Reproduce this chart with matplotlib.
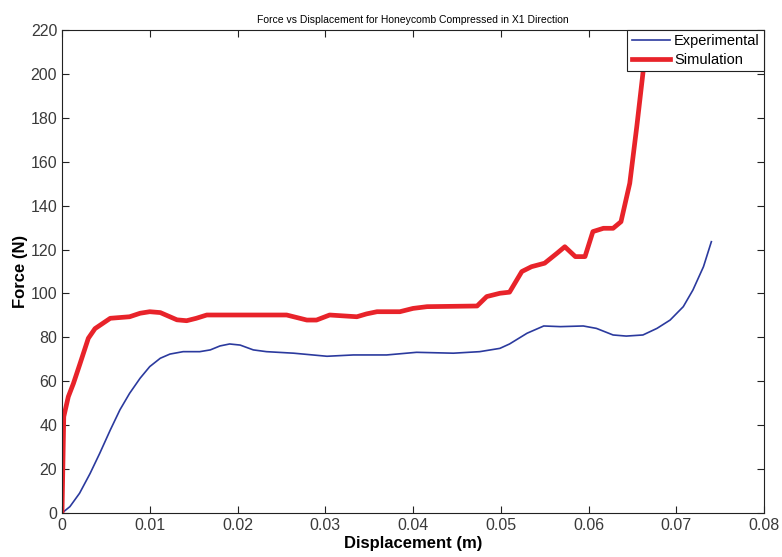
import matplotlib
matplotlib.use("Agg")
import matplotlib.pyplot as plt

plt.rcParams["font.family"] = ["Liberation Sans", "DejaVu Sans"]

# experimental
exp_x = [0.0, 0.0009, 0.002, 0.0032, 0.0043, 0.0055, 0.0066, 0.0077, 0.0089, 0.0100,
         0.0112, 0.0123, 0.0138, 0.0157, 0.0169, 0.0180, 0.0191, 0.0203, 0.0218, 0.0233,
         0.0264, 0.0302, 0.0332, 0.0370, 0.0404, 0.0446, 0.0476, 0.0499, 0.0510, 0.0530,
         0.0549, 0.0568, 0.0594, 0.0609, 0.0628, 0.0643, 0.0662, 0.0678, 0.0693, 0.0708,
         0.0719, 0.0731, 0.0740]
exp_f = [0.0, 2.9, 9.0, 18.0, 27.2, 37.8, 47.0, 54.5, 61.4, 66.7,
         70.5, 72.4, 73.5, 73.5, 74.3, 76.1, 77.0, 76.5, 74.3, 73.5,
         72.8, 71.4, 72.0, 72.0, 73.2, 72.8, 73.5, 75.0, 77.0, 81.9,
         85.2, 84.9, 85.2, 84.1, 81.1, 80.6, 81.1, 84.1, 87.9, 94.0,
         101.6, 112.2, 123.6]

# simulation
sim_x = [0.0, 0.0002, 0.00072, 0.0013, 0.00205, 0.0030, 0.00376, 0.0055, 0.0077, 0.0089,
         0.0100, 0.0112, 0.0131, 0.0142, 0.0153, 0.0165, 0.0256, 0.0264, 0.0279, 0.0290,
         0.0305, 0.0336, 0.0347, 0.0359, 0.0385, 0.0400, 0.0416, 0.0473, 0.0484, 0.0499,
         0.0510, 0.0524, 0.0535, 0.0550, 0.0564, 0.0573, 0.0585, 0.0596, 0.0605, 0.0617,
         0.0628, 0.0637, 0.0647, 0.0655, 0.0662, 0.0670]
sim_f = [0.0, 43.9, 53.0, 59.0, 68.0, 79.6, 84.0, 88.7, 89.4, 91.0,
         91.7, 91.3, 88.0, 87.6, 88.7, 90.2, 90.2, 89.4, 87.9, 87.9,
         90.2, 89.4, 90.7, 91.7, 91.7, 93.2, 94.0, 94.3, 98.6, 100.1,
         100.6, 110.0, 112.2, 113.8, 118.3, 121.3, 116.8, 116.8, 128.2, 129.7,
         129.7, 132.7, 150.2, 176.0, 200.3, 232.0]

fig = plt.figure(figsize=(7.82, 5.57), dpi=100)
ax = fig.add_axes([0.0793, 0.079, 0.8977, 0.867])

ax.plot(exp_x, exp_f, color="#2b3a9e", lw=1.2, label="Experimental")
ax.plot(sim_x, sim_f, color="#e8232a", lw=3.4, label="Simulation",
        solid_joinstyle="round")

ax.set_xlim(0, 0.08)
ax.set_ylim(0, 220)
ax.set_xticks([0, 0.01, 0.02, 0.03, 0.04, 0.05, 0.06, 0.07, 0.08])
ax.set_xticklabels(["0", "0.01", "0.02", "0.03", "0.04", "0.05", "0.06", "0.07", "0.08"])
ax.set_yticks(range(0, 221, 20))
ax.tick_params(direction="in", top=True, right=True, labelsize=11.5,
               labelcolor="#3a3a3a", color="#222222", length=5)
for s in ax.spines.values():
    s.set_color("#222222")
    s.set_linewidth(0.8)

ax.set_xlabel("Displacement (m)", fontsize=12, fontweight="bold", labelpad=2)
ax.set_ylabel("Force (N)", fontsize=12, fontweight="bold", labelpad=2)
ax.set_title("Force vs Displacement for Honeycomb Compressed in X1 Direction", fontsize=7.5, pad=5)

leg = ax.legend(loc="upper right", borderaxespad=0, fancybox=False, framealpha=1,
                edgecolor="#222222", fontsize=10.5, handlelength=2.6, borderpad=0.3,
                labelspacing=0.3, handletextpad=0.3)
leg.get_frame().set_linewidth(0.8)

fig.savefig("out.png", dpi=100, facecolor="white")
